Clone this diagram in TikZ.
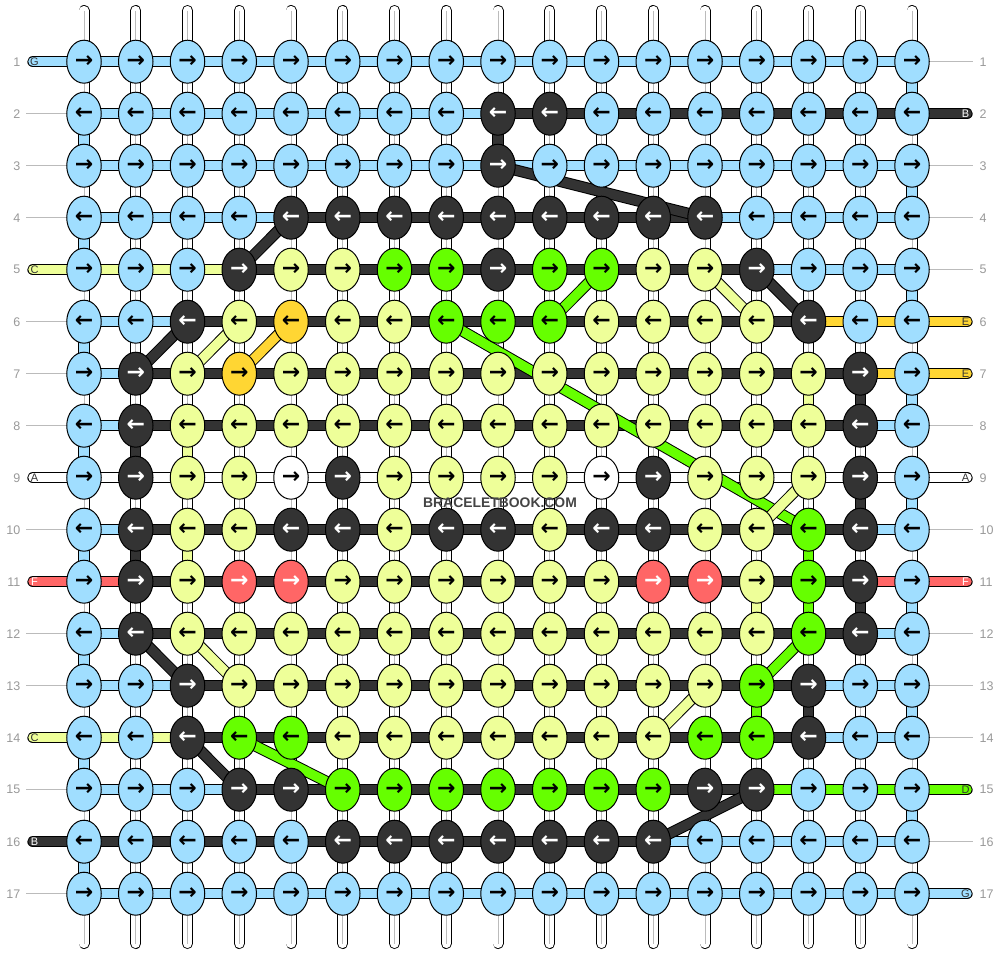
\documentclass[tikz,border=0pt]{standalone}
\usepackage{fontspec}
\setmainfont{Liberation Sans}
\newfontfamily\arrowfont{DejaVu Sans}
\usetikzlibrary{shapes.geometric}
\definecolor{cb}{HTML}{A0DEFF}
\definecolor{ck}{HTML}{333333}
\definecolor{cy}{HTML}{EEFF99}
\definecolor{cg}{HTML}{66FF00}
\definecolor{co}{HTML}{FFD633}
\definecolor{cr}{HTML}{FF6666}
\definecolor{cw}{HTML}{FFFFFF}
\definecolor{cn}{HTML}{999999}
\definecolor{cl}{HTML}{BBBBBB}
\definecolor{cm}{HTML}{444444}
\newcommand\arR{→}
\newcommand\arL{←}
\begin{document}
\begin{tikzpicture}[x=1pt,y=-1pt,
  strand/.style={draw=black, line width=1pt, double=#1, double distance=9.4pt},
  warp/.style={draw=black, line width=0.9pt, double=white, double distance=9.2pt, line cap=round},
  warpmid/.style={draw=cl, line width=0.7pt},
  rowline/.style={draw=cl, line width=0.9pt},
  knot/.style={ellipse, draw=black, line width=1pt, minimum width=34.5pt, minimum height=43pt, inner sep=0pt, font=\arrowfont\bfseries\fontsize{22}{22}\selectfont},
  kn-b/.style={knot, fill=cb},
  kn-k/.style={knot, fill=ck, text=white},
  kn-y/.style={knot, fill=cy},
  kn-g/.style={knot, fill=cg},
  kn-o/.style={knot, fill=co},
  kn-r/.style={knot, fill=cr, text=white},
  kn-w/.style={knot, fill=cw},
  lab/.style={font=\fontsize{11}{11}\selectfont, inner sep=0pt},
  num/.style={font=\fontsize{12.5}{12.5}\selectfont, text=cn, inner sep=0pt},
]
\useasboundingbox (0,0) rectangle (1000,956);
% knot positions
\foreach \r in {1,...,17}{
  \foreach \c in {1,...,17}{
    \coordinate (p-\r-\c) at ({84+(\c-1)*51.75},{61.7+(\r-1)*52});
  }
}
% warp strands
\foreach \c in {1,...,17}{
  \coordinate (wt-\c) at ({84+(\c-1)*51.75},10.5);
  \coordinate (wb-\c) at ({84+(\c-1)*51.75},943.5);
  \draw[warp] (wt-\c) -- (wb-\c);
  \draw[warpmid] (wt-\c) -- (wb-\c);
}
% row numbers and thin row lines
\foreach \r in {1,...,17}{
  \node[num, anchor=east] (nl-\r) at (20.5,{61.7+(\r-1)*52}) {\r};
  \node[num, anchor=west] (nr-\r) at (979.5,{61.7+(\r-1)*52}) {\r};
}
\foreach \r in {2,3,4,6,7,8,10,12,13,15,17}{
  \coordinate (gl-\r) at (26,{61.7+(\r-1)*52});
  \draw[rowline] (gl-\r) -- (p-\r-1);
}
\foreach \r in {1,3,4,5,8,10,12,13,14,16}{
  \coordinate (gr-\r) at (973,{61.7+(\r-1)*52});
  \draw[rowline] (p-\r-17) -- (gr-\r);
}
% horizontal strand segments
\foreach \r/\segs in {
1/{b,b,b,b,b,b,b,b,b,b,b,b,b,b,b,b},
2/{b,b,b,b,b,b,b,b,k,k,k,k,k,k,k,k},
3/{b,b,b,b,b,b,b,b,b,b,b,b,b,b,b,b},
4/{b,b,b,b,k,k,k,k,k,k,k,k,b,b,b,b},
5/{y,y,y,k,k,k,k,k,k,k,k,k,k,b,b,b},
6/{b,b,k,k,k,k,k,k,k,k,k,k,k,k,o,o},
7/{b,k,k,k,k,k,k,k,k,k,k,k,k,k,k,o},
8/{b,k,k,k,k,k,k,k,k,k,k,k,k,k,k,b},
9/{w,w,w,w,w,w,w,w,w,w,w,w,w,w,w,w},
10/{b,k,k,k,k,k,k,k,k,k,k,k,k,k,k,b},
11/{r,k,k,k,k,k,k,k,k,k,k,k,k,k,k,r},
12/{b,k,k,k,k,k,k,k,k,k,k,k,k,k,k,b},
13/{b,b,k,k,k,k,k,k,k,k,k,k,k,k,b,b},
14/{y,y,k,k,k,k,k,k,k,k,k,k,k,k,b,b},
15/{b,b,b,k,k,k,k,k,k,k,k,k,k,g,g,g},
16/{k,k,k,k,k,k,k,k,k,k,k,b,b,b,b,b},
17/{b,b,b,b,b,b,b,b,b,b,b,b,b,b,b,b}}{
  \foreach \s [count=\c] in \segs {
    \pgfmathtruncatemacro\n{\c+1}
    \draw[strand=c\s] (p-\r-\c) -- (p-\r-\n);
  }
}
% edge strands with labels
\foreach \r/\col/\t/\tc in {1/b/G/ck, 5/y/C/ck, 9/w/A/ck, 11/r/F/white, 14/y/C/ck, 16/k/B/white}{
  \coordinate (le-\r) at (33,{61.7+(\r-1)*52});
  \draw[strand=c\col, line cap=round] (le-\r) -- (p-\r-1);
  \node[lab, text=\tc] (lt-\r) at (34.5,{61.7+(\r-1)*52}) {\t};
}
\foreach \r/\col/\t/\tc in {2/k/B/white, 6/o/E/ck, 7/o/E/ck, 9/w/A/ck, 11/r/F/white, 15/g/D/ck, 17/b/G/ck}{
  \coordinate (re-\r) at (967,{61.7+(\r-1)*52});
  \draw[strand=c\col, line cap=round] (p-\r-17) -- (re-\r);
  \node[lab, text=\tc] (rt-\r) at (965.5,{61.7+(\r-1)*52}) {\t};
}
% vertical connectors between rows
\foreach \col/\a/\b in {b/1-17/2-17, b/2-1/3-1, k/2-9/3-9, b/3-17/4-17, b/4-1/5-1,
  b/5-17/6-17, b/6-1/7-1, b/7-17/8-17, k/7-16/8-16, y/7-15/8-15, b/8-1/9-1,
  k/8-2/9-2, y/8-3/9-3, b/9-17/10-17, k/9-16/10-16, b/10-1/11-1, k/10-2/11-2,
  y/10-3/11-3, g/10-15/11-15, b/11-17/12-17, k/11-16/12-16, g/11-15/12-15,
  y/11-14/12-14, b/12-1/13-1, b/13-17/14-17, k/13-15/14-15, g/13-14/14-14,
  b/14-1/15-1, b/15-17/16-17, b/16-1/17-1}{
  \draw[strand=c\col] (p-\a) -- (p-\b);
}
% diagonal connectors
\foreach \col/\a/\b in {k/3-9/4-13, k/4-5/5-4, k/5-14/6-15, y/5-13/6-14, g/5-11/6-10,
  k/6-3/7-2, y/6-4/7-3, o/6-5/7-4, g/6-8/10-15, y/9-15/10-14, k/12-2/13-3,
  y/12-3/13-4, g/12-15/13-14, y/13-13/14-12, k/14-3/15-4, g/14-4/15-6, k/15-14/16-12}{
  \draw[strand=c\col] (p-\a) -- (p-\b);
}
% knots
\foreach \r/\cols in {
1/{b,b,b,b,b,b,b,b,b,b,b,b,b,b,b,b,b},
2/{b,b,b,b,b,b,b,b,k,k,b,b,b,b,b,b,b},
3/{b,b,b,b,b,b,b,b,k,b,b,b,b,b,b,b,b},
4/{b,b,b,b,k,k,k,k,k,k,k,k,k,b,b,b,b},
5/{b,b,b,k,y,y,g,g,k,g,g,y,y,k,b,b,b},
6/{b,b,k,y,o,y,y,g,g,g,y,y,y,y,k,b,b},
7/{b,k,y,o,y,y,y,y,y,y,y,y,y,y,y,k,b},
8/{b,k,y,y,y,y,y,y,y,y,y,y,y,y,y,k,b},
9/{b,k,y,y,w,k,y,y,y,y,w,k,y,y,y,k,b},
10/{b,k,y,y,k,k,y,k,k,y,k,k,y,y,g,k,b},
11/{b,k,y,r,r,y,y,y,y,y,y,r,r,y,g,k,b},
12/{b,k,y,y,y,y,y,y,y,y,y,y,y,y,g,k,b},
13/{b,b,k,y,y,y,y,y,y,y,y,y,y,g,k,b,b},
14/{b,b,k,g,g,y,y,y,y,y,y,y,g,g,k,b,b},
15/{b,b,b,k,k,g,g,g,g,g,g,g,k,k,b,b,b},
16/{b,b,b,b,b,k,k,k,k,k,k,k,b,b,b,b,b},
17/{b,b,b,b,b,b,b,b,b,b,b,b,b,b,b,b,b}}{
  \foreach \col [count=\c] in \cols {
    \node[kn-\col] (k-\r-\c) at (p-\r-\c) {\ifodd\r\relax\arR\else\arL\fi};
  }
}
% watermark
\node[font=\bfseries\fontsize{13.9}{14}\selectfont, text=cm, inner sep=0pt] (wm) at (500,503) {BRACELETBOOK.COM};
\end{tikzpicture}
\end{document}
